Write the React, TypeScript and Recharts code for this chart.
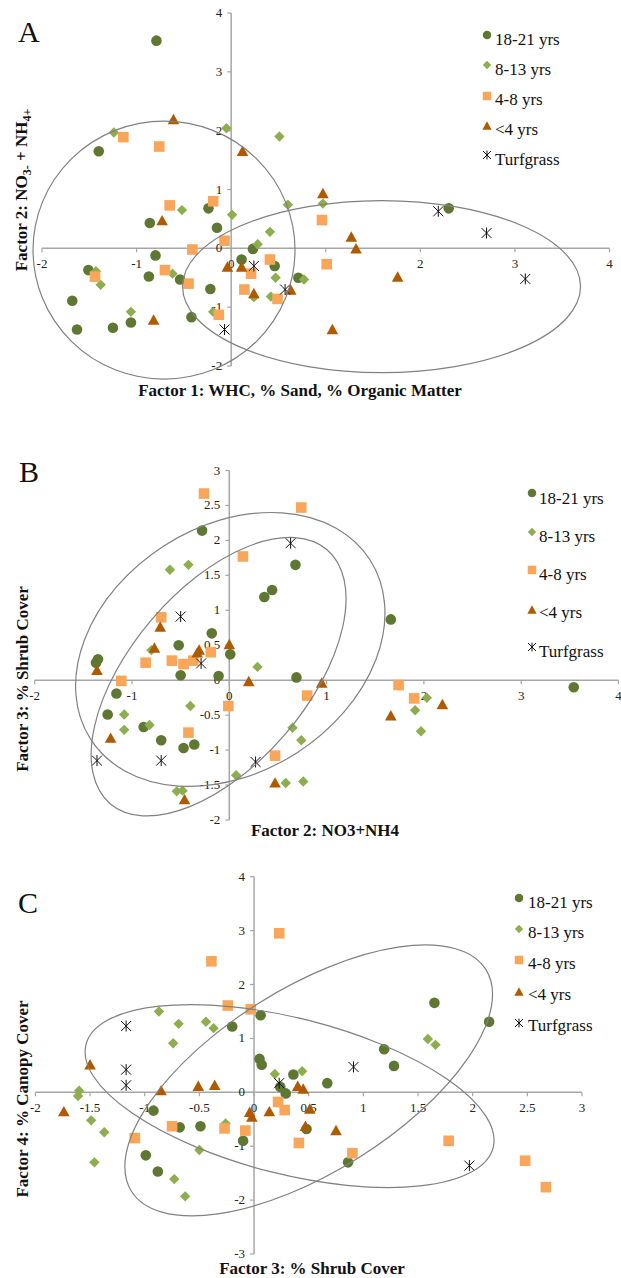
import React from 'react';
import { ScatterChart, Scatter, XAxis, YAxis, ReferenceLine, ReferenceDot } from 'recharts';

type Pt = [number, number];

// series legend + marker styles (same for all three panels)
const seriesNames = ['18-21 yrs', '8-13 yrs', '4-8 yrs', '<4 yrs', 'Turfgrass'];
const seriesKinds = ['circle', 'diamond', 'square', 'triangle', 'star'];
const seriesColors = ['#5e7833', '#8cae4e', '#f9a65a', '#b05a00', '#111111'];

// ---- Panel A: Factor 1 (x) vs Factor 2 (y)
const a18_21: Pt[] = [
  [-0.79, 3.53], [-1.4, 1.65], [-0.86, 0.43], [-0.24, 0.68], [-0.15, 0.35], [0.23, -0.01],
  [-0.8, -0.12], [0.11, -0.19], [0.46, -0.3], [-1.51, -0.37], [-0.87, -0.48], [-0.54, -0.53],
  [0.71, -0.5], [-0.22, -0.69], [-1.68, -0.89], [-1.06, -1.26], [-1.25, -1.35], [-1.63, -1.38],
  [-0.42, -1.17], [2.3, 0.68],
];
const a8_13: Pt[] = [
  [-1.24, 1.97], [-0.05, 2.04], [0.51, 1.9], [-0.52, 0.65], [0.01, 0.57], [0.6, 0.74],
  [0.41, 0.28], [0.28, 0.07], [-1.43, -0.39], [-1.38, -0.62], [-0.62, -0.43], [0.77, -0.53],
  [0.47, -0.5], [0.24, -0.83], [0.42, -0.82], [-1.06, -1.08], [-0.19, -1.08], [0.97, 0.76],
];
const a4_8: Pt[] = [
  [-1.14, 1.89], [-0.76, 1.73], [-0.65, 0.73], [-0.19, 0.8], [-0.07, 0.13], [-0.41, -0.02],
  [0.41, -0.19], [0.21, -0.43], [-1.44, -0.48], [-0.7, -0.37], [-0.45, -0.6], [0.14, -0.7],
  [0.49, -0.86], [-0.13, -1.13], [0.96, 0.48], [1.01, -0.27],
];
const aUnder4: Pt[] = [
  [-0.61, 2.19], [0.12, 1.65], [-0.73, 0.47], [-0.04, -0.32], [0.11, -0.32], [0.24, -0.77],
  [0.63, -0.71], [-0.82, -1.22], [0.97, 0.93], [1.27, 0.19], [1.32, -0.01], [1.76, -0.49],
  [1.07, -1.38],
];
const aTurf: Pt[] = [[0.24, -0.3], [0.57, -0.7], [-0.07, -1.38], [2.19, 0.63], [2.7, 0.26], [3.11, -0.52]];

// ---- Panel B: Factor 2 (x) vs Factor 3 (y)
const b18_21: Pt[] = [
  [-0.28, 2.14], [0.68, 1.65], [0.44, 1.29], [0.36, 1.19], [-0.18, 0.67], [-0.52, 0.5],
  [0.01, 0.37], [-1.35, 0.3], [-1.37, 0.25], [-0.5, 0.07], [-0.11, 0.06], [0.69, 0.04],
  [-1.16, -0.19], [-1.25, -0.49], [-0.88, -0.67], [-0.7, -0.86], [-0.47, -0.97], [-0.36, -0.92],
  [1.66, 0.87], [3.54, -0.1],
];
const b8_13: Pt[] = [
  [-0.61, 1.58], [-0.42, 1.65], [-0.8, 0.43], [0.29, 0.19], [-0.4, -0.37], [-1.08, -0.49],
  [-1.08, -0.71], [-0.82, -0.64], [0.65, -0.68], [0.74, -0.86], [0.07, -1.36], [0.58, -1.47],
  [0.76, -1.45], [-0.54, -1.59], [-0.48, -1.58], [2.03, -0.25], [1.91, -0.43], [1.97, -0.73],
];
const b4_8: Pt[] = [
  [-0.26, 2.67], [0.74, 2.47], [0.14, 1.77], [-0.7, 0.9], [-0.19, 0.4], [-0.86, 0.25],
  [-0.59, 0.28], [-0.47, 0.23], [-0.37, 0.28], [-1.11, -0.01], [0.8, -0.22], [-0.01, -0.37],
  [-0.42, -0.75], [0.47, -1.08], [1.74, -0.07], [1.9, -0.26],
];
const bUnder4: Pt[] = [
  [-0.71, 0.76], [0.0, 0.51], [-0.77, 0.46], [-0.31, 0.43], [-0.33, 0.39], [-1.36, 0.14],
  [0.2, -0.02], [-1.22, -0.83], [0.47, -1.47], [-0.46, -1.71], [0.95, -0.04], [2.19, -0.35],
  [1.66, -0.51],
];
const bTurf: Pt[] = [[0.63, 1.96], [-0.5, 0.91], [-0.29, 0.24], [-1.36, -1.15], [-0.7, -1.15], [0.27, -1.17]];

// ---- Panel C: Factor 3 (x) vs Factor 4 (y)
const c18_21: Pt[] = [
  [0.06, 1.43], [-0.2, 1.22], [0.05, 0.62], [0.07, 0.51], [0.36, 0.33], [0.24, 0.1],
  [0.29, -0.02], [-0.92, -0.34], [-0.68, -0.65], [-0.49, -0.63], [0.48, -0.68], [-0.1, -0.9],
  [-0.99, -1.17], [-0.88, -1.47], [1.65, 1.66], [2.15, 1.31], [1.19, 0.8], [1.28, 0.49],
  [0.67, 0.17], [0.86, -1.3],
];
const c8_13: Pt[] = [
  [-0.87, 1.5], [-0.69, 1.27], [-0.44, 1.31], [-0.37, 1.19], [-0.74, 0.91], [0.19, 0.34],
  [0.44, 0.39], [-1.6, 0.03], [-1.61, -0.07], [-1.49, -0.52], [-1.37, -0.74], [-0.26, -0.58],
  [-0.5, -1.07], [-1.46, -1.3], [-0.73, -1.61], [-0.63, -1.93], [1.59, 0.99], [1.66, 0.88],
];
const c4_8: Pt[] = [
  [0.23, 2.95], [-0.39, 2.43], [-0.24, 1.61], [-0.03, 1.54], [0.22, -0.18], [0.28, -0.33],
  [-1.09, -0.85], [-0.75, -0.63], [-0.27, -0.67], [-0.08, -0.71], [0.41, -0.94], [0.9, -1.13],
  [1.78, -0.9], [2.48, -1.27], [2.67, -1.76],
];
const cUnder4: Pt[] = [
  [-1.5, 0.51], [-0.85, 0.03], [-0.51, 0.11], [-0.36, 0.13], [-1.74, -0.36], [-0.04, -0.37],
  [-0.02, -0.46], [0.14, -0.36], [0.4, 0.11], [0.45, 0.06], [0.51, -0.31], [0.47, -0.63],
  [0.75, -0.71],
];
const cTurf: Pt[] = [[-1.17, 1.23], [-1.17, 0.42], [-1.17, 0.13], [0.23, 0.17], [0.91, 0.47], [1.97, -1.36]];

// axis ticks
const ticksA_x = [-2, -1, 0, 1, 2, 3, 4];
const ticksA_y = [-2, -1, 0, 1, 2, 3, 4];
const ticksB_x = [-2, -1, 0, 1, 2, 3, 4];
const ticksB_y = [-2, -1.5, -1, -0.5, 0, 0.5, 1, 1.5, 2, 2.5, 3];
const ticksC_x = [-2, -1.5, -1, -0.5, 0, 0.5, 1, 1.5, 2, 2.5, 3];
const ticksC_y = [-3, -2, -1, 0, 1, 2, 3, 4];

// hand-drawn group ellipses: centre in data units, radii/rotation in px
const ellipsesA = [
  { cx: -0.71, cy: -0.03, rx: 131, ry: 129, rot: 0 },
  { cx: 1.59, cy: -0.65, rx: 199, ry: 86, rot: 0 },
];
const ellipsesB = [
  { cx: 0.01, cy: 0.44, rx: 166, ry: 123, rot: -32.7 },
  { cx: -0.11, cy: 0.05, rx: 167, ry: 88, rot: -49.5 },
];
const ellipsesC = [
  { cx: 0.325, cy: -0.07, rx: 210, ry: 78, rot: 14.2 },
  { cx: 0.5, cy: 0.22, rx: 209, ry: 92, rot: -32 },
];

const FONT = 'Liberation Serif, Times New Roman, serif';
const AXIS = '#a6a6a6';

function Marker({ kind, cx, cy, s = 1 }: { kind: string; cx: number; cy: number; s?: number }) {
  const i = seriesKinds.indexOf(kind);
  const fill = seriesColors[i];
  if (kind === 'circle') return <circle cx={cx} cy={cy} r={5.3 * s} fill={fill} />;
  if (kind === 'diamond') {
    const d = 5.2 * s;
    return <polygon points={`${cx},${cy - d} ${cx + d},${cy} ${cx},${cy + d} ${cx - d},${cy}`} fill={fill} />;
  }
  if (kind === 'square') {
    const h = 5.3 * s;
    return <rect x={cx - h} y={cy - h} width={2 * h} height={2 * h} fill={fill} />;
  }
  if (kind === 'triangle') {
    const t = 5.8 * s;
    return <polygon points={`${cx},${cy - t} ${cx + t},${cy + t * 0.8} ${cx - t},${cy + t * 0.8}`} fill={fill} />;
  }
  const r = 5 * s;
  return (
    <g stroke={fill} strokeWidth={1}>
      <line x1={cx - r} y1={cy - r} x2={cx + r} y2={cy + r} />
      <line x1={cx - r} y1={cy + r} x2={cx + r} y2={cy - r} />
      <line x1={cx} y1={cy - r * 1.1} x2={cx} y2={cy + r * 1.1} />
    </g>
  );
}

interface PanelCfg {
  top: number;
  height: number;
  margin: { top: number; right: number; bottom: number; left: number };
  xDomain: [number, number];
  yDomain: [number, number];
  xTicks: number[];
  yTicks: number[];
  series: Pt[][];
  ellipses: { cx: number; cy: number; rx: number; ry: number; rot: number }[];
}

const panels: PanelCfg[] = [
  {
    top: 0, height: 400, margin: { top: 13, right: 11.5, bottom: 34, left: 42 },
    xDomain: [-2, 4], yDomain: [-2, 4], xTicks: ticksA_x, yTicks: ticksA_y,
    series: [a18_21, a8_13, a4_8, aUnder4, aTurf], ellipses: ellipsesA,
  },
  {
    top: 430, height: 400, margin: { top: 40.5, right: 2.5, bottom: 10, left: 34.7 },
    xDomain: [-2, 4], yDomain: [-2, 3], xTicks: ticksB_x, yTicks: ticksB_y,
    series: [b18_21, b8_13, b4_8, bUnder4, bTurf], ellipses: ellipsesB,
  },
  {
    top: 850, height: 428, margin: { top: 26.7, right: 39, bottom: 24, left: 35.4 },
    xDomain: [-2, 3], yDomain: [-3, 4], xTicks: ticksC_x, yTicks: ticksC_y,
    series: [c18_21, c8_13, c4_8, cUnder4, cTurf], ellipses: ellipsesC,
  },
];

function Panel({ cfg }: { cfg: PanelCfg }) {
  return (
    <div style={{ position: 'absolute', left: 0, top: cfg.top }}>
      <ScatterChart width={621} height={cfg.height} margin={cfg.margin}>
        <XAxis type="number" dataKey="x" domain={cfg.xDomain} allowDataOverflow hide />
        <YAxis type="number" dataKey="y" domain={cfg.yDomain} allowDataOverflow hide />
        <ReferenceLine y={0} stroke={AXIS} strokeWidth={1.5} ifOverflow="visible" />
        <ReferenceLine x={0} stroke={AXIS} strokeWidth={1.5} ifOverflow="visible" />
        {cfg.xTicks.map((v) => (
          <ReferenceDot
            key={'xt' + v}
            x={v}
            y={0}
            ifOverflow="visible"
            shape={(p: any) => (
              <g>
                <line x1={p.cx} y1={p.cy} x2={p.cx} y2={p.cy + 4} stroke={AXIS} strokeWidth={1.2} />
                <text x={p.cx} y={p.cy + 20} textAnchor="middle" fontSize={13} fontFamily={FONT} fill="#222">
                  {String(v)}
                </text>
              </g>
            )}
          />
        ))}
        {cfg.yTicks.map((v) => (
          <ReferenceDot
            key={'yt' + v}
            x={0}
            y={v}
            ifOverflow="visible"
            shape={(p: any) => (
              <g>
                <line x1={p.cx - 4} y1={p.cy} x2={p.cx} y2={p.cy} stroke={AXIS} strokeWidth={1.2} />
                <text x={p.cx - 9} y={p.cy + 4} textAnchor="end" fontSize={13} fontFamily={FONT} fill="#222">
                  {String(v)}
                </text>
              </g>
            )}
          />
        ))}
        {cfg.series.map((pts, i) => (
          <Scatter
            key={seriesNames[i]}
            name={seriesNames[i]}
            data={pts.map(([x, y]) => ({ x, y }))}
            isAnimationActive={false}
            shape={(p: any) => <Marker kind={seriesKinds[i]} cx={p.cx} cy={p.cy} />}
          />
        ))}
        {cfg.ellipses.map((e, i) => (
          <ReferenceDot
            key={'el' + i}
            x={e.cx}
            y={e.cy}
            ifOverflow="visible"
            shape={(p: any) => (
              <ellipse
                cx={p.cx}
                cy={p.cy}
                rx={e.rx}
                ry={e.ry}
                transform={`rotate(${e.rot} ${p.cx} ${p.cy})`}
                fill="none"
                stroke="#808080"
                strokeWidth={1.2}
              />
            )}
          />
        ))}
      </ScatterChart>
    </div>
  );
}

// legend placement per panel (page px)
const legends = [
  { mx: 487, tx: 495, my: [35, 65, 96, 126, 155], ty: [39, 69, 99, 129, 159] },
  { mx: 532, tx: 539, my: [493, 532, 570, 610, 647], ty: [498, 536, 574.5, 612, 651] },
  { mx: 519, tx: 528, my: [898, 929, 960, 992, 1023], ty: [902, 932, 963, 994, 1025] },
];

export default function App() {
  const titleStyle = { fontFamily: FONT, fontWeight: 'bold' as const, fontSize: 17, fill: '#111' };
  return (
    <div style={{ position: 'absolute', left: 0, top: 0, width: 621, height: 1278, background: '#fff' }}>
      {panels.map((cfg, i) => (
        <Panel key={i} cfg={cfg} />
      ))}
      <svg width={621} height={1278} style={{ position: 'absolute', left: 0, top: 0, pointerEvents: 'none' }}>
        <text x={18} y={42} fontFamily={FONT} fontSize={30} fill="#111">A</text>
        <text x={19} y={482} fontFamily={FONT} fontSize={30} fill="#111">B</text>
        <text x={18} y={913} fontFamily={FONT} fontSize={30} fill="#111">C</text>

        <text x={300} y={396} textAnchor="middle" {...titleStyle}>Factor 1: WHC, % Sand, % Organic Matter</text>
        <text x={325} y={836} textAnchor="middle" {...titleStyle}>Factor 2: NO3+NH4</text>
        <text x={312} y={1274} textAnchor="middle" {...titleStyle}>Factor 3: % Shrub Cover</text>

        <text transform="translate(27,190) rotate(-90)" textAnchor="middle" {...titleStyle}>
          Factor 2: NO<tspan dy={4} fontSize={12}>3-</tspan>
          <tspan dy={-4}> + NH</tspan>
          <tspan dy={4} fontSize={12}>4+</tspan>
        </text>
        <text transform="translate(28,679) rotate(-90)" textAnchor="middle" {...titleStyle}>Factor 3: % Shrub Cover</text>
        <text transform="translate(28,1099) rotate(-90)" textAnchor="middle" {...titleStyle}>Factor 4: % Canopy Cover</text>

        {legends.map((lg, li) =>
          seriesNames.map((name, i) => (
            <g key={li + '-' + i}>
              <Marker kind={seriesKinds[i]} cx={lg.mx} cy={lg.my[i]} s={0.8} />
              <text x={lg.tx} y={lg.ty[i] + 5.6} fontFamily={FONT} fontSize={17} fill="#111">{name}</text>
            </g>
          ))
        )}
      </svg>
    </div>
  );
}
